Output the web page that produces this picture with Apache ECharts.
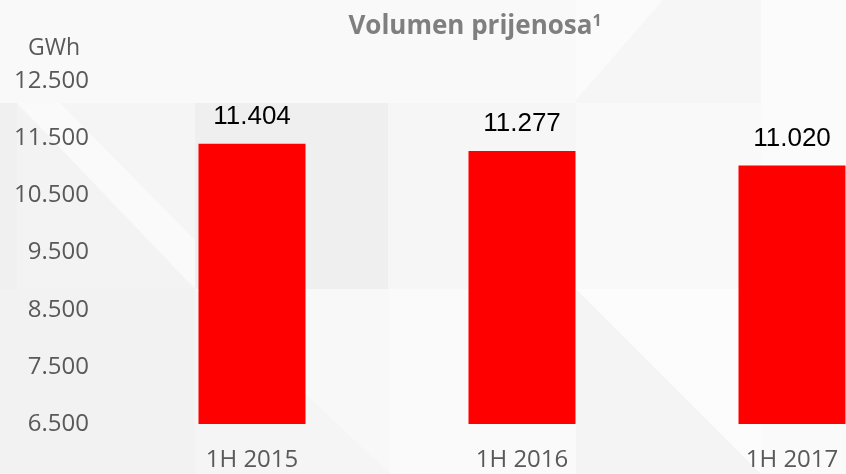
<!DOCTYPE html>
<html>
<head>
<meta charset="utf-8">
<script src="https://cdn.jsdelivr.net/npm/echarts@6/dist/echarts.min.js"></script>
<style>
html,body{margin:0;padding:0;background:#f3f3f3;}
#c{width:846px;height:474px;}
</style>
</head>
<body>
<div id="c"></div>
<script>
const categories = ['1H 2015', '1H 2016', '1H 2017'];
const volumes = [11404, 11277, 11020];
const yMin = 6500, yMax = 12500, yStep = 1000;
const titleText = 'Volumen prijenosa';
const unitText = 'GWh';

function fmt(v) {
  const s = String(Math.round(v));
  return s.replace(/\B(?=(\d{3})+(?!\d))/g, '.');
}

function rect(x, y, w, h, fill) {
  return { type: 'rect', silent: true, z: -10, shape: { x: x, y: y, width: w, height: h }, style: { fill: fill } };
}
function tri(pts, fill) {
  return { type: 'polygon', silent: true, z: -9, shape: { points: pts }, style: { fill: fill } };
}

const chart = echarts.init(document.getElementById('c'));
chart.setOption({
  backgroundColor: '#f3f3f3',
  animation: false,
  graphic: [
    rect(0, 0, 576, 103, '#f9f9f9'),
    rect(576, 0, 185, 103, '#f6f6f6'),
    tri([[576, 0], [663, 0], [576, 100]], '#fbfbfb'),
    rect(761, 0, 85, 103, '#fbfbfb'),
    rect(0, 103, 17, 186, '#f0f0f0'),
    rect(17, 103, 178, 186, '#f5f5f5'),
    tri([[17, 103], [195, 289], [17, 289]], '#f3f3f3'),
    tri([[17, 103], [60, 103], [195, 240], [195, 289]], '#fafafa'),
    rect(195, 103, 193, 186, '#efefef'),
    rect(388, 103, 188, 186, '#f6f6f6'),
    rect(576, 103, 185, 186, '#f9f9f9'),
    rect(761, 103, 85, 186, '#fbfbfb'),
    rect(0, 289, 195, 185, '#f2f2f2'),
    rect(195, 289, 195, 185, '#f8f8f8'),
    tri([[195, 289], [390, 474], [195, 474]], '#f5f5f5'),
    rect(390, 289, 186, 185, '#fafafa'),
    rect(576, 289, 185, 185, '#fcfcfc'),
    tri([[576, 289], [761, 474], [576, 474]], '#f4f4f4'),
    rect(761, 289, 85, 185, '#fafafa')
  ],
  title: {
    text: titleText + '{s|1}',
    left: 470,
    textAlign: 'center',
    top: 8,
    textStyle: {
      fontFamily: 'Open Sans',
      fontWeight: 'bold',
      fontSize: 26,
      color: '#7f7f7f',
      rich: {
        s: { fontFamily: 'Open Sans', fontWeight: 'bold', fontSize: 16, color: '#7f7f7f', verticalAlign: 'top', padding: [0, 0, 12, 0] }
      }
    }
  },
  grid: { left: 117, width: 810, top: 81, bottom: 50, containLabel: false, outerBoundsMode: 'none' },
  xAxis: {
    type: 'category',
    data: categories,
    axisLine: { show: false },
    axisTick: { show: false },
    axisLabel: { margin: 24, fontFamily: 'Open Sans', fontSize: 24, color: '#595959' }
  },
  yAxis: {
    type: 'value',
    min: yMin,
    max: yMax,
    interval: yStep,
    name: unitText,
    nameLocation: 'end',
    nameGap: 21,
    nameTextStyle: { fontFamily: 'Open Sans', fontSize: 23, color: '#595959', align: 'right', padding: [0, 37, 0, 0] },
    axisLine: { show: false },
    axisTick: { show: false },
    splitLine: { show: false },
    axisLabel: { margin: 28, fontFamily: 'Open Sans', fontSize: 24, color: '#595959', formatter: fmt }
  },
  series: [{
    type: 'bar',
    data: volumes,
    barWidth: 107,
    itemStyle: { color: '#ff0000' },
    label: {
      show: true,
      position: 'top',
      distance: 14,
      fontFamily: 'Liberation Sans',
      fontSize: 26,
      color: '#000000',
      formatter: p => fmt(p.value)
    }
  }]
});
</script>
</body>
</html>
